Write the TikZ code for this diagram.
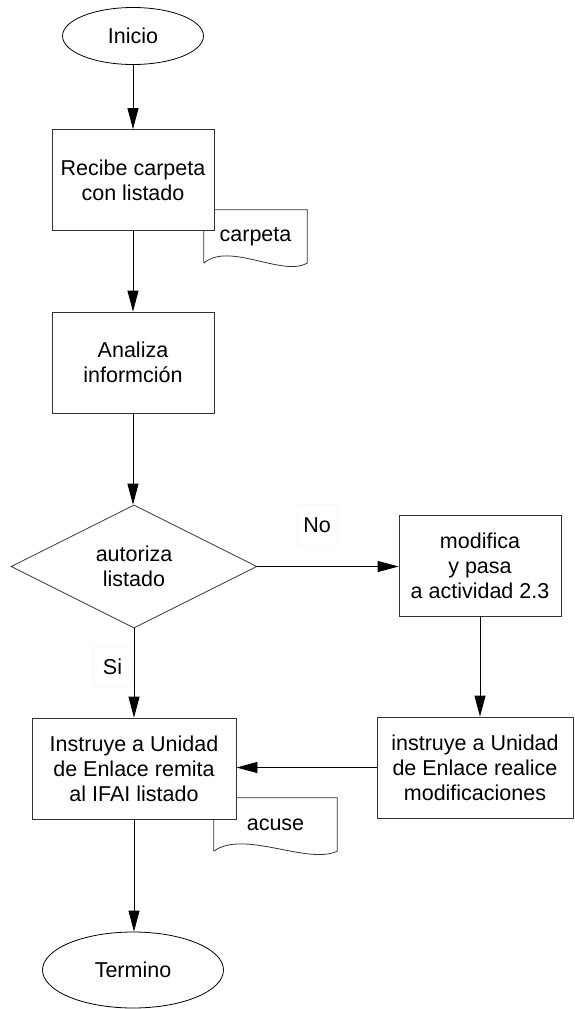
\documentclass[tikz,border=0pt]{standalone}
\usepackage{fontspec}
\setmainfont{Liberation Sans}
\usetikzlibrary{shapes.geometric,arrows.meta}
\tikzset{
  base/.style={font=\fontsize{21.5}{25}\selectfont, align=center, inner sep=0pt},
  procbox/.style={base, draw=black!80, fill=white, line width=0.8pt, minimum height=101pt},
  term/.style={base, draw=black, fill=white, ellipse, line width=0.8pt},
  decision/.style={base, draw=black!80, fill=white, diamond, line width=0.8pt, minimum width=246pt, minimum height=123pt},
  docnode/.style={base, minimum width=#1, minimum height=53pt},
  docline/.style={draw=black!80, line width=0.8pt},
  lbl/.style={base, draw=orange!7, minimum width=40pt, minimum height=41pt},
  flow/.style={draw=black, line width=0.8pt, -{Triangle[length=21pt,width=11pt]}}
}
\begin{document}
\begin{tikzpicture}[x=1pt,y=-1pt]
\useasboundingbox (0,0) rectangle (574,1009);
% documents (drawn first, boxes overlap them)
\node[docnode=103pt] (carpeta) at (255.5,236.5) {carpeta};
\draw[docline] (carpeta.south west) -- (carpeta.north west) -- (carpeta.north east) -- (carpeta.south east)
  .. controls ([xshift=-25pt,yshift=-14pt]carpeta.south east) and ([xshift=25pt,yshift=22pt]carpeta.south west) .. (carpeta.south west);
\node[docnode=123pt] (acuse) at (275.5,824.5) {acuse};
\draw[docline] (acuse.south west) -- (acuse.north west) -- (acuse.north east) -- (acuse.south east)
  .. controls ([xshift=-30pt,yshift=-14pt]acuse.south east) and ([xshift=30pt,yshift=22pt]acuse.south west) .. (acuse.south west);

% main flow
\node[term, minimum width=141pt, minimum height=57pt] (inicio) at (133,36) {Inicio};
\node[procbox, minimum width=162pt] (recibe) at (133,180) {Recibe carpeta\\con listado};
\node[procbox, minimum width=162pt] (analiza) at (133,362.5) {Analiza\\informción};
\node[decision] (autoriza) at (134,566.5) {autoriza\\listado};
\node[procbox, minimum width=162pt] (modifica) at (480,565.5) {modifica\\y pasa\\a actividad 2.3};
\node[procbox, minimum width=196pt] (realice) at (475,767.5) {instruye a Unidad\\de Enlace realice\\modificaciones};
\node[procbox, minimum width=204pt] (remita) at (134,768.5) {Instruye a Unidad\\de Enlace remita\\al IFAI listado};
\node[term, minimum width=181pt, minimum height=76pt] (termino) at (133,970) {Termino};

% labels
\node[lbl] (no) at (317,525) {No};
\node[lbl] (si) at (112.5,666.5) {Si};

% connectors
\draw[flow] (inicio.south) -- (inicio.south |- recibe.north);
\draw[flow] (recibe.south) -- (recibe.south |- analiza.north);
\draw[flow] (analiza.south) -- (analiza.south |- autoriza.north);
\draw[flow] (autoriza.east) -- (autoriza.east -| modifica.west);
\draw[flow] (modifica.south) -- (modifica.south |- realice.north);
\draw[flow] (realice.west) -- (realice.west -| remita.east);
\draw[flow] (autoriza.south) -- (autoriza.south |- remita.north);
\draw[flow] (remita.south) -- (remita.south |- termino.north);
\end{tikzpicture}
\end{document}
